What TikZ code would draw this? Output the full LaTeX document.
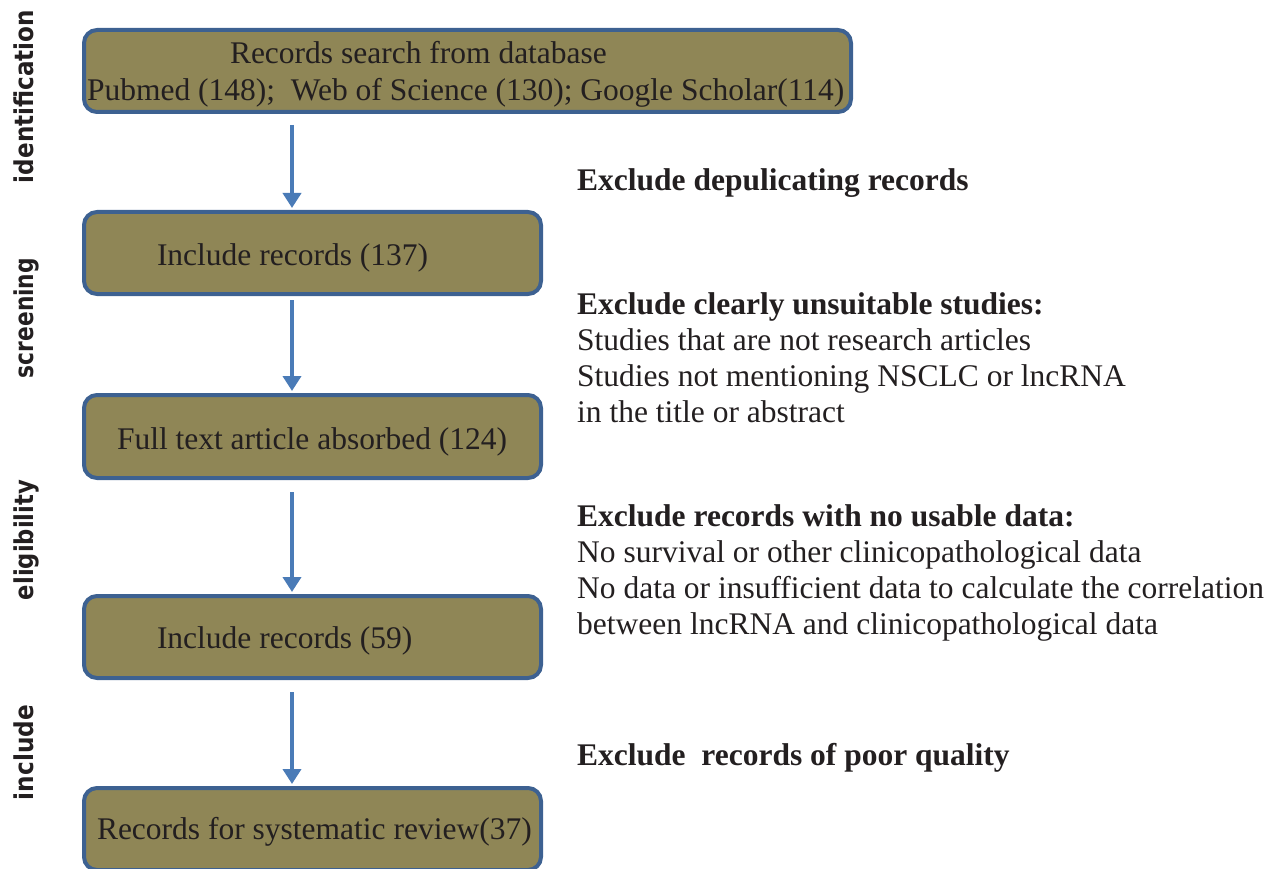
\documentclass[tikz,border=0pt]{standalone}
\usepackage{fontspec}
\setmainfont{Liberation Serif}
\newfontfamily\sidefont{DejaVu Sans}
\usetikzlibrary{arrows.meta}
\definecolor{boxfill}{HTML}{8F8656}
\definecolor{boxline}{HTML}{3D6191}
\definecolor{arrowblue}{HTML}{4A7BB7}
\definecolor{ink}{HTML}{231F20}
\newcommand{\lowered}[2]{\raisebox{-#1}[\height][\depth]{#2}}
\begin{document}
\begin{tikzpicture}[x=1pt,y=-1pt,
  stagebox/.style={draw=boxline, line width=4pt, fill=boxfill, rounded corners=13pt,
    minimum height=82pt, inner sep=0pt, align=left, text=ink,
    font=\fontsize{31.5}{37}\selectfont},
  flowarrow/.style={draw=arrowblue, line width=4pt, -{Triangle[width=18pt,length=15pt]}},
  note/.style={anchor=north west, inner sep=0pt, align=left, text=ink,
    font=\fontsize{31.5}{36}\selectfont},
  noteline/.style={anchor=base west, inner sep=0pt, text=ink,
    font=\fontsize{31.5}{36}\selectfont\bfseries},
  side/.style={rotate=90, anchor=base, inner sep=0pt, text=ink,
    font=\sidefont\bfseries\fontsize{26}{30}\selectfont}]
\clip (0,0) rectangle (1280,869);
\useasboundingbox (0,0) rectangle (1280,869);

% stage boxes
\node[stagebox, minimum width=767pt] (b1) at (467.5,71)
  {\lowered{4pt}{\begin{tabular}{@{}l@{}}
   \makebox[767pt][l]{\hspace*{146pt}Records search from database}\\
   \makebox[767pt][l]{\hspace*{3pt}Pubmed (148);\ \ Web of Science (130); Google Scholar(114)}
   \end{tabular}}};
\node[stagebox, minimum width=457pt] (b2) at (312.5,253)
  {\lowered{5pt}{\makebox[457pt][l]{\hspace*{73pt}Include records (137)}}};
\node[stagebox, minimum width=457pt, minimum height=83pt] (b3) at (312.5,436.5)
  {\lowered{5pt}{\makebox[457pt][l]{\hspace*{33pt}Full text article absorbed (124)}}};
\node[stagebox, minimum width=457pt] (b4) at (312.5,637)
  {\lowered{4pt}{\makebox[457pt][l]{\hspace*{73pt}Include records (59)}}};
\node[stagebox, minimum width=457pt] (b5) at (312.5,829)
  {\lowered{3pt}{\makebox[457pt][l]{\hspace*{13pt}Records for systematic review(37)}}};

% arrows
\coordinate (ax) at (292,0);
\draw[flowarrow] ([yshift=-11pt]b1.south -| ax) -- ([yshift=2pt]b2.north -| ax);
\draw[flowarrow] ([yshift=-4pt]b2.south -| ax) -- ([yshift=2pt]b3.north -| ax);
\draw[flowarrow] ([yshift=-12pt]b3.south -| ax) -- ([yshift=2pt]b4.north -| ax);
\draw[flowarrow] ([yshift=-12pt]b4.south -| ax) -- ([yshift=2pt]b5.north -| ax);

% side labels
\node[side] (s1) at (33,96.5) {\resizebox{173pt}{\height}{identification}};
\node[side] (s2) at (33,318) {\resizebox{120pt}{\height}{screening}};
\node[side] (s3) at (33,540) {\resizebox{120pt}{\height}{eligibility}};
\node[side] (s4) at (33,752.5) {\resizebox{95pt}{\height}{include}};

% exclusion notes
\node[noteline] (n1) at (577,191) {Exclude depulicating records};
\node[note] (n2) at (577,292.5) {\textbf{Exclude clearly unsuitable studies:}\\
  Studies that are not research articles\\
  Studies not mentioning NSCLC or lncRNA\\
  in the title or abstract};
\node[note] (n3) at (577,504) {\textbf{Exclude records with no usable data:}\\
  No survival or other clinicopathological data\\
  No data or insufficient data to calculate the correlation\\
  between lncRNA and clinicopathological data};
\node[noteline] (n4) at (577,765) {Exclude\ \ records of poor quality};
\end{tikzpicture}
\end{document}
